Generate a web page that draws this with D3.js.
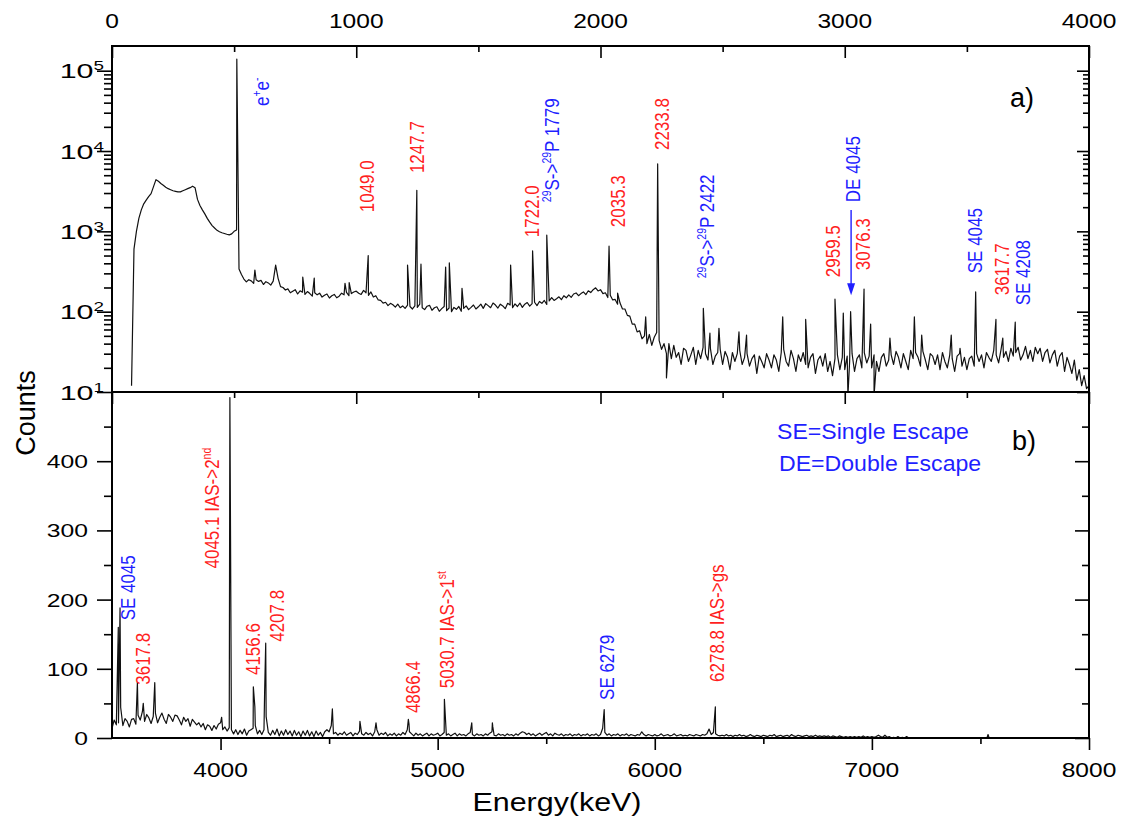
<!DOCTYPE html>
<html>
<head>
<meta charset="utf-8">
<script src="https://cdn.jsdelivr.net/npm/d3@7/dist/d3.min.js"></script>
<style>
body { margin: 0; background: #fff; }
text { font-family: "Liberation Sans", Arial, sans-serif; }
</style>
</head>
<body>
<div id="chart"></div>
<script>
// ---- data: panel a) spectrum, 10 keV channels starting at 0 keV (counts, log scale)
var topStart = 0, topStep = 10;
var topBackground = [
  0, 0, 0, 0, 0, 0, 0, 0, 12, 600,                               // 0
  1000, 1450, 1850, 2200, 2450, 2700, 2950, 3600, 4400, 4200,    // 100
  3950, 3750, 3550, 3400, 3300, 3200, 3150, 3100, 3100, 3200,    // 200
  3300, 3400, 3500, 3650, 3500, 2500, 2100, 1850, 1650, 1450,    // 300
  1300, 1180, 1100, 1030, 990, 960, 940, 920, 905, 930,          // 400
  1000, 1040, 340, 290, 255, 235, 250, 242, 225, 250,            // 500
  238, 245, 218, 236, 228, 214, 240, 380, 260, 205,              // 600
  200, 186, 192, 172, 180, 188, 166, 182, 175, 164,              // 700
  178, 168, 156, 172, 162, 170, 152, 160, 166, 148,              // 800
  158, 164, 149, 156, 170, 162, 174, 158, 168, 176,              // 900
  180, 170, 164, 184, 172, 160, 176, 152, 158, 140,              // 1000
  138, 128, 131, 119, 127, 122, 114, 124, 112, 118,              // 1100
  110, 121, 116, 108, 118, 113, 124, 112, 106, 117,              // 1200
  120, 104, 112, 115, 101, 109, 116, 103, 111, 100,              // 1300
  113, 107, 116, 101, 110, 118, 106, 113, 121, 108,              // 1400
  115, 124, 110, 126, 119, 112, 128, 121, 111, 124,              // 1500
  118, 109, 127, 121, 112, 125, 116, 128, 113, 124,              // 1600
  130, 117, 126, 131, 119, 134, 127, 138, 123, 136,              // 1700
  150, 138, 145, 153, 141, 158, 149, 162, 151, 166,              // 1800
  171, 158, 168, 176, 163, 182, 173, 188, 198, 181,              // 1900
  188, 168, 172, 150, 160, 140, 142, 124, 128, 108,              // 2000
  108, 90, 88, 70, 70, 56, 58, 46, 50, 40,                       // 2100
  52, 38, 48, 55, 44, 34, 40, 30, 40, 26,                        // 2200
  38, 27, 31, 22, 35, 33, 24, 29, 36, 22,                        // 2300
  33, 26, 36, 30, 25, 35, 22, 28, 31, 34,                        // 2400
  22, 32, 27, 19, 31, 24, 30, 33, 22, 27,                        // 2500
  30, 21, 26, 29, 17, 28, 24, 20, 30, 25,                        // 2600
  20, 29, 25, 18, 31, 34, 24, 21, 33, 26,                        // 2700
  18, 29, 24, 31, 22, 20, 27, 30, 17, 25,                        // 2800
  28, 21, 30, 18, 24, 16, 26, 29, 19, 27,                        // 2900
  19, 28, 24, 30, 18, 26, 29, 20, 31, 23,                        // 3000
  28, 20, 29, 24, 18, 27, 30, 21, 25, 29,                        // 3100
  22, 32, 27, 20, 30, 24, 19, 33, 26, 31,                        // 3200
  27, 21, 32, 25, 19, 30, 28, 22, 29, 19,                        // 3300
  31, 24, 20, 29, 26, 18, 28, 30, 21, 27,                        // 3400
  19, 26, 28, 21, 30, 24, 29, 20, 31, 27,                        // 3500
  24, 33, 29, 23, 34, 27, 32, 24, 35, 28,                        // 3600
  31, 36, 25, 29, 37, 26, 33, 24, 36, 30,                        // 3700
  35, 24, 31, 34, 23, 29, 33, 21, 28, 31,                        // 3800
  18, 27, 22, 17, 25, 14, 19, 12, 16, 11,                        // 3900
  12                                                             // 4000
];
// narrow lines (and dips) read off panel a): [energy keV, counts]
var topSpikes = [
  [511, 139000], [585, 330], [781, 270], [828, 262], [954, 225], [971, 230],
  [1049, 500], [1210, 380], [1248, 3240], [1265, 390], [1366, 360], [1381, 405],
  [1433, 195], [1632, 380], [1722, 571], [1780, 897], [2035, 653], [2070, 170],
  [2185, 86], [2234, 6900], [2270, 15], [2421, 110], [2448, 54], [2485, 62],
  [2567, 56], [2598, 51], [2746, 86], [2840, 80], [2960, 143], [2994, 96],
  [3013, 9], [3024, 100], [3079, 191], [3106, 70], [3120, 9], [3185, 47],
  [3285, 86], [3315, 51], [3436, 51], [3472, 35], [3536, 176], [3619, 80],
  [3647, 47], [3698, 74]
];

// ---- data: panel b) spectrum, 10 keV channels starting at 3500 keV (counts, linear)
var bottomStart = 3500, bottomStep = 10;
var bottomBackground = [
  14, 26, 19, 22, 44, 18, 28, 24, 16, 27,   // 3500
  28, 20, 33, 26, 38, 24, 34, 29, 21, 31,   // 3600
  36, 22, 30, 36, 27, 21, 34, 30, 24, 33,   // 3700
  32, 26, 19, 30, 24, 28, 17, 27, 23, 19,   // 3800
  22, 16, 21, 12, 19, 17, 11, 18, 13, 20,   // 3900
  22, 12, 16, 10, 15, 12, 6, 12, 5, 11,     // 4000
  6, 13, 4, 10, 12, 14, 18, 6, 11, 5,       // 4100
  12, 31, 8, 4, 11, 5, 13, 3, 10, 4,        // 4200
  12, 5, 10, 3, 11, 4, 9, 2, 10, 4,         // 4300
  11, 3, 9, 2, 10, 4, 8, 2, 9, 12,          // 4400
  9, 18, 6, 8, 4, 7, 5, 9, 4, 6,            // 4500
  8, 3, 7, 5, 10, 6, 4, 8, 5, 7,            // 4600
  3, 9, 12, 4, 7, 5, 8, 3, 6, 4,            // 4700
  7, 3, 6, 4, 8, 5, 12, 9, 6, 3,            // 4800
  7, 4, 6, 3, 5, 7, 3, 6, 4, 5,             // 4900
  7, 3, 5, 8, 4, 6, 3, 5, 7, 3,             // 5000
  6, 4, 5, 3, 6, 8, 5, 3, 6, 4,             // 5100
  5, 3, 6, 4, 7, 9, 4, 3, 6, 4,             // 5200
  5, 3, 6, 4, 5, 3, 6, 4, 7, 9,             // 5300
  8, 5, 7, 4, 6, 3, 5, 7, 4, 6,             // 5400
  8, 4, 6, 3, 7, 5, 4, 6, 3, 5,             // 5500
  4, 6, 3, 5, 4, 6, 3, 5, 4, 6,             // 5600
  3, 5, 4, 6, 3, 5, 14, 8, 4, 6,            // 5700
  3, 5, 4, 6, 3, 5, 4, 6, 3, 5,             // 5800
  4, 3, 5, 4, 9, 5, 3, 5, 4, 3,             // 5900
  5, 3, 4, 6, 3, 4, 5, 3, 4, 6,             // 6000
  3, 4, 5, 3, 4, 3, 5, 4, 3, 5,             // 6100
  4, 3, 5, 4, 6, 13, 5, 8, 6, 4,            // 6200
  3, 4, 3, 5, 3, 4, 2, 4, 3, 5,             // 6300
  3, 4, 2, 3, 5, 3, 2, 4, 3, 2,             // 6400
  4, 3, 2, 4, 3, 5, 2, 3, 4, 2,             // 6500
  3, 4, 2, 5, 3, 2, 4, 3, 2, 3,             // 6600
  4, 2, 3, 2, 4, 2, 3, 2, 3, 2,             // 6700
  3, 1, 3, 2, 1, 3, 2, 1, 2, 1,             // 6800
  2, 1, 2, 1, 2, 1, 3, 1, 2, 1,             // 6900
  2, 1, 2, 4, 2, 1, 4, 1, 2, 0,             // 7000
  1, 0, 2, 0, 1, 0, 2, 0, 0, 0,             // 7100
  0, 0, 0, 0, 0, 0, 0, 0, 0, 0,             // 7200
  0, 0, 0, 0, 0, 0, 0, 0, 0, 0,             // 7300
  0, 0, 0, 0, 0, 0, 0, 0, 0, 0,             // 7400
  0, 0, 0, 0, 0, 0, 0, 0, 0, 0,             // 7500
  0, 0, 0, 0, 0, 0, 0, 0, 0, 0,             // 7600
  0, 0, 0, 0, 0, 0, 0, 0, 0, 0,             // 7700
  0, 0, 0, 0, 0, 0, 0, 0, 0, 0,             // 7800
  0, 0, 0, 0, 0, 0, 0, 0, 0, 0,             // 7900
  0                                         // 8000
];
var bottomSpikes = [
  [3529, 160], [3537, 188], [3617, 80], [3644, 50], [3697, 80], [4005, 30],
  [4041, 175], [4043, 492], [4046, 289], [4151, 74], [4158, 45], [4203, 67],
  [4208, 137], [4515, 42], [4642, 24], [4716, 22], [4865, 27], [4868, 20],
  [5031, 56], [5157, 22], [5252, 22], [5254, 16], [5767, 41], [6279, 45], [7535, 5]
];

// ---- tick values
var topXTicks = [0, 1000, 2000, 3000, 4000];
var topXMinor = [500, 1500, 2500, 3500];
var logTicks = [10, 100, 1000, 10000, 100000];
var bottomXTicks = [4000, 5000, 6000, 7000, 8000];
var bottomXMinor = [4500, 5500, 6500, 7500];
var bottomYTicks = [0, 100, 200, 300, 400];
var bottomYMinor = [50, 150, 250, 350, 450];

// ---- peak labels: text starts at (energy, counts); ^{..} marks a superscript
var topLabels = [
  { text: "e^{+}e^{-}", energy: 614, counts: 36300, kind: "escape" },
  { text: "1049.0", energy: 1044, counts: 1730, kind: "gamma" },
  { text: "1247.7", energy: 1249, counts: 5310, kind: "gamma" },
  { text: "1722.0", energy: 1720, counts: 847, kind: "gamma" },
  { text: "^{29}S->^{29}P 1779", energy: 1801, counts: 2310, kind: "escape" },
  { text: "2035.3", energy: 2072, counts: 1127, kind: "gamma" },
  { text: "2233.8", energy: 2252, counts: 10280, kind: "gamma" },
  { text: "^{29}S->^{29}P 2422", energy: 2436, counts: 261, kind: "escape" },
  { text: "DE 4045", energy: 3034, counts: 2310, kind: "escape" },
  { text: "2959.5", energy: 2952, counts: 269, kind: "gamma" },
  { text: "3076.3", energy: 3075, counts: 329, kind: "gamma" },
  { text: "SE 4045", energy: 3533, counts: 301, kind: "escape" },
  { text: "3617.7", energy: 3644, counts: 160, kind: "gamma" },
  { text: "SE 4208", energy: 3730, counts: 120, kind: "escape" }
];
var bottomLabels = [
  { text: "SE 4045", energy: 3574, counts: 170, kind: "escape" },
  { text: "3617.8", energy: 3643, counts: 77, kind: "gamma" },
  { text: "4045.1 IAS->2^{nd}", energy: 3961, counts: 245, kind: "gamma" },
  { text: "4156.6", energy: 4149, counts: 91, kind: "gamma" },
  { text: "4207.8", energy: 4260, counts: 139, kind: "gamma" },
  { text: "4866.4", energy: 4886, counts: 36, kind: "gamma" },
  { text: "5030.7 IAS->1^{st}", energy: 5043, counts: 72, kind: "gamma" },
  { text: "SE 6279", energy: 5780, counts: 55, kind: "escape" },
  { text: "6278.8 IAS->gs", energy: 6287, counts: 81, kind: "gamma" }
];
// DE 4045 arrow in panel a): energy, from counts, to counts
var deArrow = [3026, 1840, 160];
var legendLines = ["SE=Single Escape", "DE=Double Escape"];

var w = 1123, h = 821;
var red = "#ff1f1f", blue = "#1f1fff";
var kindColor = { gamma: red, escape: blue };

var xTop = d3.scaleLinear().domain([0, 4000]).range([112, 1089]);
var yTop = d3.scaleLog().domain([10, 2.03e5]).range([392, 46]);
var xBot = d3.scaleLinear().domain([3500, 8000]).range([112, 1089]);
var yBot = d3.scaleLinear().domain([0, 500]).range([738, 392]);

var svg = d3.select("#chart").append("svg")
    .attr("width", w)
    .attr("height", h);
svg.append("rect").attr("width", w).attr("height", h).attr("fill", "#fff");

var defs = svg.append("defs");
defs.append("clipPath").attr("id", "clipTop").append("rect")
    .attr("x", 112).attr("y", 46).attr("width", 977).attr("height", 346);
defs.append("clipPath").attr("id", "clipBot").append("rect")
    .attr("x", 112).attr("y", 392).attr("width", 977).attr("height", 346);

// merge channel readings with the narrow line readings
function spectrum(start, step, values, spikes) {
  var pts = values.map(function(c, i) { return [start + i * step, c]; });
  return pts.concat(spikes).sort(function(a, b) { return a[0] - b[0]; });
}

var topLine = d3.line()
    .defined(function(d) { return d[1] > 0; })
    .x(function(d) { return xTop(d[0]); })
    .y(function(d) { return yTop(Math.max(d[1], 8)); });
var botLine = d3.line()
    .x(function(d) { return xBot(d[0]); })
    .y(function(d) { return yBot(d[1]); });

svg.append("path")
    .datum(spectrum(topStart, topStep, topBackground, topSpikes))
    .attr("clip-path", "url(#clipTop)")
    .attr("d", topLine)
    .attr("fill", "none")
    .attr("stroke", "#111")
    .attr("stroke-width", 1.2)
    .attr("stroke-linejoin", "round");

svg.append("path")
    .datum(spectrum(bottomStart, bottomStep, bottomBackground, bottomSpikes))
    .attr("clip-path", "url(#clipBot)")
    .attr("d", botLine)
    .attr("fill", "none")
    .attr("stroke", "#111")
    .attr("stroke-width", 1.2)
    .attr("stroke-linejoin", "round");

// ---- axes (ticks only, labels drawn separately)
function tickAxis(axis, values, size, tx, ty) {
  var g = svg.append("g")
      .attr("transform", "translate(" + tx + "," + ty + ")")
      .call(axis.tickValues(values).tickSize(size).tickSizeOuter(0).tickFormat(""));
  g.select(".domain").remove();
  g.selectAll(".tick line").attr("stroke", "#000").attr("stroke-width", 1.6);
  return g;
}
var logMinor = [];
logTicks.forEach(function(d) {
  for (var k = 2; k <= 9; k++) if (d * k < 1.9e5) logMinor.push(d * k);
});

// panel a)
tickAxis(d3.axisLeft(yTop), logTicks, 15, 112, 0);
tickAxis(d3.axisLeft(yTop), logMinor, 8, 112, 0);
tickAxis(d3.axisRight(yTop), logTicks, -12, 1089, 0);
tickAxis(d3.axisRight(yTop), logMinor, -6, 1089, 0);
tickAxis(d3.axisTop(xTop), topXTicks, -12, 0, 46);
tickAxis(d3.axisTop(xTop), topXMinor, -6, 0, 46);
tickAxis(d3.axisBottom(xTop), topXTicks, 12, 0, 392);
tickAxis(d3.axisBottom(xTop), topXMinor, 6, 0, 392);
// panel b)
tickAxis(d3.axisLeft(yBot), bottomYTicks, 15, 112, 0);
tickAxis(d3.axisLeft(yBot), bottomYMinor, 8, 112, 0);
tickAxis(d3.axisRight(yBot), bottomYTicks, -14, 1089, 0);
tickAxis(d3.axisRight(yBot), bottomYMinor, -7, 1089, 0);
tickAxis(d3.axisBottom(xBot), bottomXTicks, 12, 0, 738);
tickAxis(d3.axisBottom(xBot), bottomXMinor, 6, 0, 738);

// frames
svg.append("rect").attr("x", 112).attr("y", 46).attr("width", 977).attr("height", 692)
    .attr("fill", "none").attr("stroke", "#000").attr("stroke-width", 2);
svg.append("line").attr("x1", 112).attr("x2", 1089).attr("y1", 392).attr("y2", 392)
    .attr("stroke", "#000").attr("stroke-width", 2);

// ---- text helpers
function rich(t, str, supSize, shift) {
  var parts = str.split(/\^\{([^}]*)\}/);
  var raised = false;
  parts.forEach(function(p, i) {
    if (p === "") return;
    var s = t.append("tspan").text(p);
    if (i % 2 === 1) {
      s.attr("font-size", supSize);
      if (!raised) s.attr("dy", -shift);
      raised = true;
    } else {
      if (raised) s.attr("dy", shift);
      raised = false;
    }
  });
  return t;
}
function flatText(x, y, str, size, anchor, sx, color) {
  return svg.append("text")
      .attr("transform", "translate(" + x + "," + y + ") scale(" + sx + ",1)")
      .attr("text-anchor", anchor)
      .attr("font-size", size)
      .attr("fill", color || "#000")
      .text(str);
}
function upText(x, y, str, color) {
  var sx = 1.15;
  var t = svg.append("text")
      .attr("transform", "translate(" + (x + 6 * sx) + "," + y + ") scale(" + sx + ",1) rotate(-90)")
      .attr("font-size", 17)
      .attr("fill", color);
  return rich(t, str, 10.5, 7);
}

// tick labels
topXTicks.forEach(function(d) { flatText(xTop(d), 28, d, 21, "middle", 1.17); });
bottomXTicks.forEach(function(d) { flatText(xBot(d), 777, d, 21, "middle", 1.17); });
bottomYTicks.forEach(function(d) { flatText(88, yBot(d) + 7, d, 19, "end", 1.3); });
logTicks.forEach(function(d) {
  var t = svg.append("text")
      .attr("transform", "translate(104," + (yTop(d) + 7.5) + ") scale(1.45,1)")
      .attr("text-anchor", "end")
      .attr("font-size", 21);
  rich(t, "10^{" + Math.round(Math.log10(d)) + "}", 13, 8);
});

// axis titles
flatText(557, 811, "Energy(keV)", 26, "middle", 1.17);
svg.append("text")
    .attr("transform", "translate(35,413) rotate(-90)")
    .attr("text-anchor", "middle")
    .attr("font-size", 27)
    .text("Counts");

// panel tags and legend
flatText(1010, 107, "a)", 27, "start", 1);
flatText(1012, 450, "b)", 27, "start", 1);
legendLines.forEach(function(s, i) {
  flatText(i === 0 ? 777 : 779, 439 + i * 32, s, 22, "start", 1.05, blue);
});

// peak labels
topLabels.forEach(function(d) {
  upText(xTop(d.energy), yTop(d.counts), d.text, kindColor[d.kind]);
});
bottomLabels.forEach(function(d) {
  upText(xBot(d.energy), yBot(d.counts), d.text, kindColor[d.kind]);
});

// DE 4045 arrow
var ax = xTop(deArrow[0]), ay1 = yTop(deArrow[1]), ay2 = yTop(deArrow[2]);
svg.append("line").attr("x1", ax).attr("x2", ax).attr("y1", ay1).attr("y2", ay2 - 10)
    .attr("stroke", blue).attr("stroke-width", 1.4);
svg.append("path")
    .attr("d", "M" + (ax - 4) + "," + (ay2 - 12) + "L" + (ax + 4) + "," + (ay2 - 12) + "L" + ax + "," + ay2 + "Z")
    .attr("fill", blue);
</script>
</body>
</html>
